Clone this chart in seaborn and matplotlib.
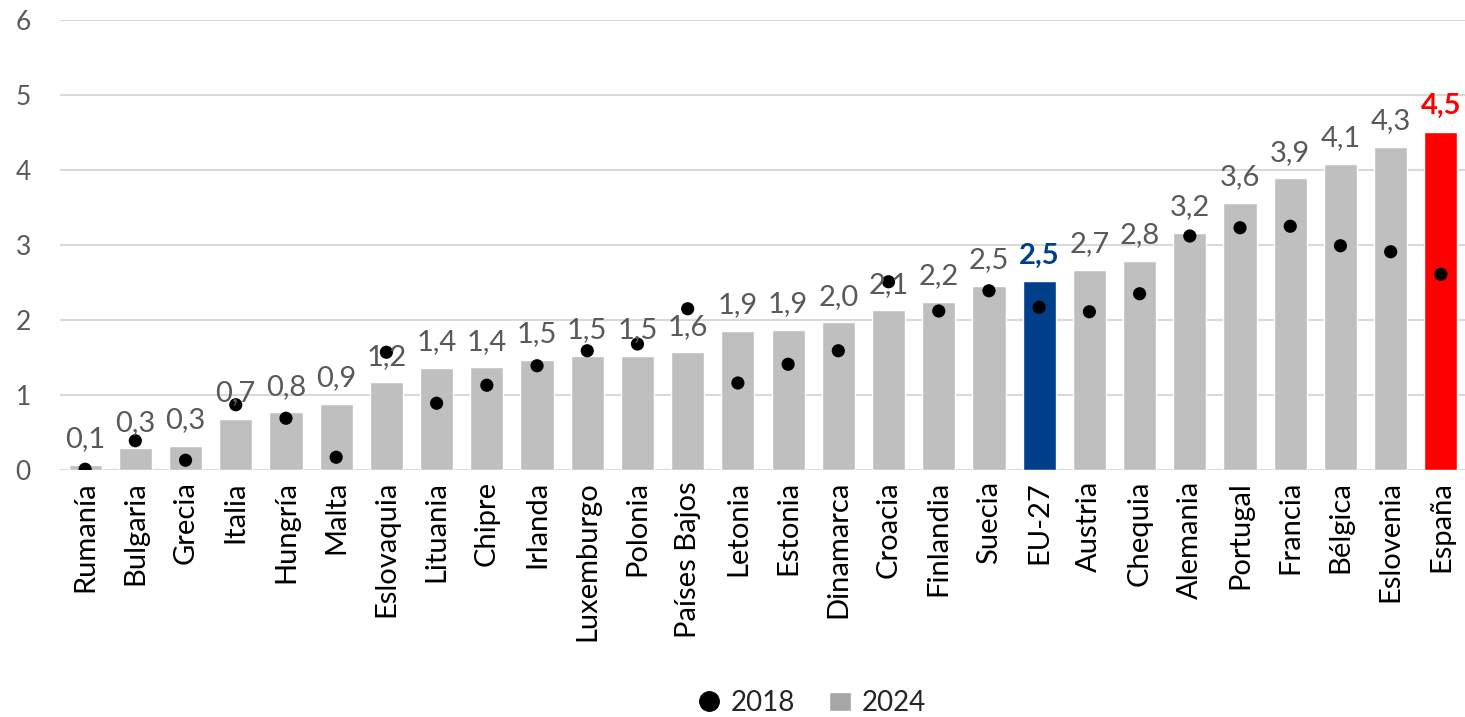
import matplotlib
matplotlib.use("Agg")
import matplotlib.pyplot as plt
from matplotlib.lines import Line2D
from matplotlib.patches import Patch
import seaborn as sns
import pandas as pd

countries = ["Rumanía", "Bulgaria", "Grecia", "Italia", "Hungría", "Malta",
             "Eslovaquia", "Lituania", "Chipre", "Irlanda", "Luxemburgo",
             "Polonia", "Países Bajos", "Letonia", "Estonia", "Dinamarca",
             "Croacia", "Finlandia", "Suecia", "EU-27", "Austria", "Chequia",
             "Alemania", "Portugal", "Francia", "Bélgica", "Eslovenia", "España"]
values_2024 = [0.07, 0.29, 0.32, 0.68, 0.77, 0.88, 1.17, 1.36, 1.37, 1.47, 1.52,
               1.52, 1.57, 1.86, 1.87, 1.97, 2.13, 2.24, 2.46, 2.52, 2.67, 2.79,
               3.16, 3.56, 3.89, 4.08, 4.31, 4.51]
values_2018 = [0.01, 0.39, 0.13, 0.87, 0.69, 0.17, 1.57, 0.89, 1.13, 1.39, 1.59,
               1.68, 2.15, 1.16, 1.41, 1.59, 2.51, 2.12, 2.39, 2.17, 2.11, 2.35,
               3.12, 3.23, 3.25, 2.99, 2.91, 2.61]

GRAY = "#BFBFBF"
BLUE = "#003F8A"
RED = "#FF0000"
TEXT = "#595959"

df = pd.DataFrame({"country": countries, "v2024": values_2024, "v2018": values_2018})
palette = {c: GRAY for c in countries}
palette["EU-27"] = BLUE
palette["España"] = RED

sns.set_style("white")
plt.rcParams["font.family"] = ["Lato", "DejaVu Sans"]

fig = plt.figure(figsize=(14.65, 7.17), dpi=100)
ax = fig.add_axes([60 / 1465, 1 - 470 / 717, 1406 / 1465, 450 / 717])

sns.barplot(data=df, x="country", y="v2024", hue="country", palette=palette,
            width=0.66, legend=False, ax=ax, saturation=1, zorder=2)
ax.scatter(range(len(countries)), values_2018, s=90, color="black", zorder=3,
           edgecolors="none")

# data labels
for i, (c, v) in enumerate(zip(countries, values_2024)):
    label = f"{v:.1f}".replace(".", ",")
    if c == "EU-27":
        color, weight = BLUE, "bold"
    elif c == "España":
        color, weight = RED, "bold"
    else:
        color, weight = TEXT, "normal"
    ax.annotate(label, (i, v), xytext=(0, 9), textcoords="offset points",
                ha="center", va="bottom", fontsize=21, color=color,
                fontweight=weight)

ax.set_xlim(-0.5, 27.5)
ax.set_ylim(0, 6)
ax.set_yticks(range(7))
ax.yaxis.grid(True, color="#D9D9D9", linewidth=1.5, zorder=0)
ax.set_axisbelow(True)
for s in ax.spines.values():
    s.set_visible(False)
ax.set_xlabel("")
ax.set_ylabel("")
ax.tick_params(axis="y", length=0, labelsize=19, labelcolor=TEXT, pad=21)
ax.tick_params(axis="x", length=0, labelsize=21, labelcolor="black", pad=8,
               labelrotation=90)

handles = [Line2D([], [], marker="o", linestyle="none", color="black",
                  markersize=14, label="2018"),
           Patch(facecolor="#A6A6A6", label="2024")]
fig.legend(handles=handles, loc="center", bbox_to_anchor=(812 / 1465, 1 - 703 / 717),
           ncol=2, frameon=False, fontsize=20, handlelength=0.8,
           handletextpad=0.4, columnspacing=1.2)

fig.savefig("out.png", dpi=100)
